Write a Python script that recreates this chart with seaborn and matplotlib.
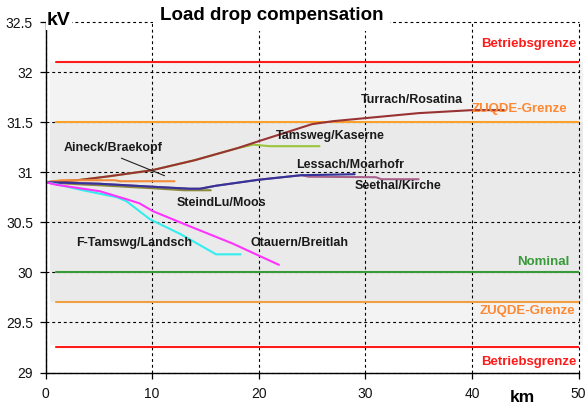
import numpy as np
import pandas as pd
import matplotlib
matplotlib.use("Agg")
import matplotlib.pyplot as plt
import seaborn as sns

# Voltage profiles along each feeder (distance in km, voltage in kV)
turrach_km = [0, 3, 6, 10, 14, 18, 20, 25, 27, 30, 35, 40, 43]
turrach_kv = [30.90, 30.92, 30.96, 31.02, 31.12, 31.24, 31.31, 31.48, 31.51, 31.54, 31.59, 31.62, 31.62]

tamsweg_km = [0, 3, 6, 10, 14, 18, 19.5, 21, 25.7]
tamsweg_kv = [30.90, 30.92, 30.96, 31.02, 31.12, 31.24, 31.275, 31.26, 31.26]

aineck_km = [0, 1.5, 6.5, 7, 12.1]
aineck_kv = [30.90, 30.92, 30.92, 30.91, 30.91]

steindlu_km = [0, 3, 5, 10, 13, 15.5]
steindlu_kv = [30.90, 30.88, 30.87, 30.84, 30.82, 30.82]

lessach_km = [0, 5, 10, 13.5, 14.5, 16, 18, 20, 24, 29]
lessach_kv = [30.90, 30.885, 30.855, 30.835, 30.835, 30.865, 30.895, 30.925, 30.97, 30.98]

seethal_km = [0, 5, 10, 13.5, 14.5, 16, 18, 20, 24, 24.7, 31, 31.5, 35]
seethal_kv = [30.90, 30.885, 30.855, 30.835, 30.835, 30.865, 30.895, 30.925, 30.97, 30.955, 30.95, 30.93, 30.93]

ftamswg_km = [0, 1, 3.5, 6.7, 7.6, 9.8, 12.7, 16.0, 18.3]
ftamswg_kv = [30.90, 30.88, 30.82, 30.75, 30.71, 30.53, 30.38, 30.18, 30.18]

otauern_km = [0, 1, 5.1, 7.6, 8.8, 10.1, 13.3, 17.5, 21.9]
otauern_kv = [30.90, 30.875, 30.81, 30.73, 30.69, 30.61, 30.47, 30.29, 30.075]

feeders = ["Tamsweg/Kaserne", "Turrach/Rosatina", "Aineck/Braekopf", "SteindLu/Moos",
           "Seethal/Kirche", "Lessach/Moarhofr", "F-Tamswg/Landsch", "Otauern/Breitlah"]
feeder_km = [tamsweg_km, turrach_km, aineck_km, steindlu_km, seethal_km, lessach_km, ftamswg_km, otauern_km]
feeder_kv = [tamsweg_kv, turrach_kv, aineck_kv, steindlu_kv, seethal_kv, lessach_kv, ftamswg_kv, otauern_kv]
feeder_colors = ["#9BC53D", "#993333", "#F28C3C", "#8A8A3A",
                 "#A8608C", "#333399", "#33EEEE", "#FF33FF"]

# Limit lines
limit_names = ["Betriebsgrenze oben", "ZUQDE oben", "Nominal", "ZUQDE unten", "Betriebsgrenze unten"]
limit_kv = [32.1, 31.5, 30.0, 29.7, 29.25]
limit_km = [1, 50]
limit_colors = ["#FF1A1A", "#F9A12B", "#3A9A3A", "#F0A040", "#FF1A1A"]

# Label texts: (text, km, kV)
feeder_labels = [
    ("Turrach/Rosatina", 34.4, 31.725),
    ("Tamsweg/Kaserne", 26.7, 31.365),
    ("Aineck/Braekopf", 6.3, 31.245),
    ("Lessach/Moarhofr", 28.6, 31.075),
    ("Seethal/Kirche", 33.1, 30.865),
    ("SteindLu/Moos", 16.5, 30.695),
    ("F-Tamswg/Landsch", 8.3, 30.295),
    ("Otauern/Breitlah", 23.8, 30.295),
]
limit_labels = [
    ("Betriebsgrenze", 49.8, 32.28, "#FF1A1A"),
    ("ZUQDE-Grenze", 48.9, 31.63, "#FF8833"),
    ("Nominal", 49.2, 30.10, "#3A9A3A"),
    ("ZUQDE-Grenze", 49.7, 29.615, "#FF8833"),
    ("Betriebsgrenze", 49.8, 29.105, "#FF1A1A"),
]

feeder_df = pd.DataFrame(
    [(name, k, v) for name, ks, vs in zip(feeders, feeder_km, feeder_kv) for k, v in zip(ks, vs)],
    columns=["Abgang", "km", "kV"],
)
limit_df = pd.DataFrame(
    [(name, k, v) for name, v in zip(limit_names, limit_kv) for k in limit_km],
    columns=["Grenze", "km", "kV"],
)

sns.set_theme(style="white")
plt.rcParams["font.family"] = ["Liberation Sans", "DejaVu Sans"]

fig = plt.figure(figsize=(5.86, 4.11), dpi=100)
ax = fig.add_axes([45.5 / 586, 1 - 372.5 / 411, (578.5 - 45.5) / 586, (372.5 - 22) / 411])

# Shaded tolerance bands
ax.fill_between([0.42, 50.4], 29.27, 32.1, color="#F3F3F3", lw=0, zorder=0.1, clip_on=False)
ax.fill_between([0.42, 50.4], 29.7, 31.5, color="#EAEAEA", lw=0, zorder=0.15, clip_on=False)

sns.lineplot(data=limit_df, x="km", y="kV", hue="Grenze", hue_order=limit_names,
             palette=limit_colors, estimator=None, sort=False, legend=False, lw=1.5, ax=ax)
sns.lineplot(data=feeder_df, x="km", y="kV", hue="Abgang", hue_order=feeders,
             palette=feeder_colors, estimator=None, sort=False, legend=False, lw=1.5, ax=ax)

ax.set_xlim(0, 50)
ax.set_ylim(29, 32.5)
ax.set_xticks(range(0, 51, 10))
ax.set_yticks(np.arange(29, 32.51, 0.5))
ax.set_yticklabels([f"{t:g}" for t in np.arange(29, 32.51, 0.5)])
ax.set_xlabel("")
ax.set_ylabel("")
ax.tick_params(axis="both", direction="out", length=4.5, width=0.9, color="black",
               labelsize=10, labelcolor="#111111")
ax.tick_params(axis="x", pad=6)
ax.tick_params(axis="y", pad=4.5)
ax.tick_params(bottom=True, left=True)

for side in ["top", "right"]:
    ax.spines[side].set_visible(False)
for side in ["left", "bottom"]:
    ax.spines[side].set_color("black")
    ax.spines[side].set_linewidth(1.0)

ax.set_axisbelow(True)
ax.grid(True, color="black", linestyle=(0, (2.6, 2.6)), lw=0.8)
for gl in ax.get_xgridlines() + ax.get_ygridlines():
    gl.set_clip_on(False)

for text, x, y in feeder_labels:
    ax.text(x, y, text, ha="center", va="center", fontsize=9, fontweight="bold",
            color="#1A1A1A", zorder=6)
ax.plot([7.12, 11.17], [31.14, 30.965], color="#222222", lw=0.8, zorder=6)

for text, x, y, c in limit_labels:
    ax.text(x, y, text, ha="right", va="center", fontsize=9.5, fontweight="bold",
            color=c, zorder=6)

ax.text(21.2, 32.565, "Load drop compensation", ha="center", va="center", fontsize=13.5,
        fontweight="bold", color="black", zorder=7, clip_on=False,
        bbox=dict(facecolor="white", edgecolor="none", pad=5))
ax.text(0.15, 32.515, "kV", ha="left", va="center", fontsize=14, fontweight="bold",
        color="black", zorder=7, clip_on=False,
        bbox=dict(facecolor="white", edgecolor="none", pad=0.5))
ax.text(44.7, 28.75, "km", ha="center", va="center", fontsize=12.5, fontweight="bold",
        color="black", clip_on=False)

fig.savefig("out.png", dpi=100)
